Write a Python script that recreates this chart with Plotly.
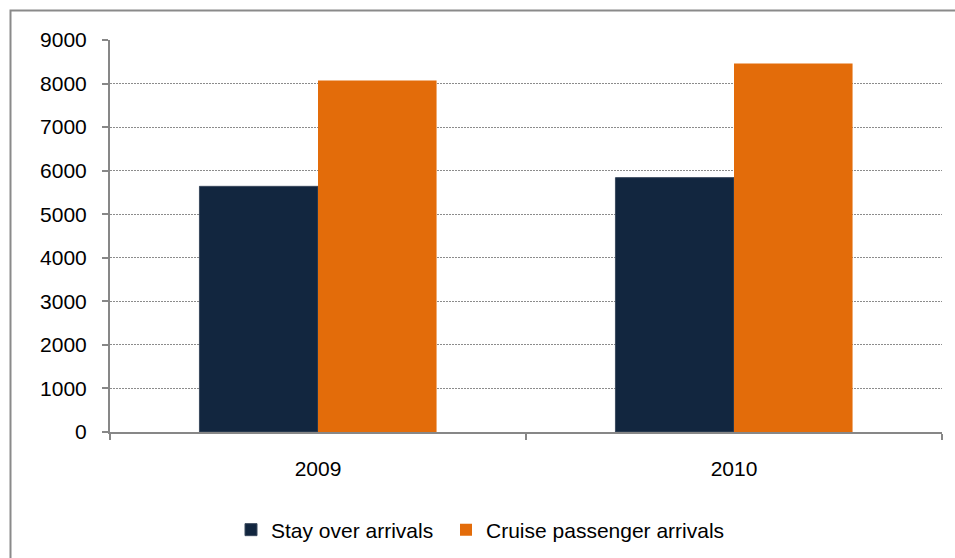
import plotly.graph_objects as go

categories = ["2009", "2010"]
stay_over = [5640, 5840]
cruise = [8070, 8460]
y_ticks = [0, 1000, 2000, 3000, 4000, 5000, 6000, 7000, 8000, 9000]

W, H = 955, 558
L, R, T, B = 110, 13, 40, 126
pw, ph = W - L - R, H - T - B

def px_x(x):
    return (x - L) / pw

def px_y(y):
    return (H - B - y) / ph

fig = go.Figure()
fig.add_trace(go.Bar(name="Stay over arrivals", x=categories, y=stay_over, legend="legend",
                     marker=dict(color="#12263f", line=dict(color="#3b4a5e", width=1))))
fig.add_trace(go.Bar(name="Cruise passenger arrivals", x=categories, y=cruise, legend="legend2",
                     marker=dict(color="#e36c0a", line=dict(width=0))))

axis_gray = "#878787"
leg_common = dict(orientation="h", xanchor="left", yanchor="middle",
                  xref="container", yref="container", y=1 - 530 / H,
                  font=dict(size=21), itemwidth=30, bgcolor="rgba(0,0,0,0)")
fig.update_layout(
    width=W, height=H,
    margin=dict(l=L, r=R, t=T, b=B, pad=0, autoexpand=False),
    paper_bgcolor="white", plot_bgcolor="white",
    barmode="group", bargap=0.43, bargroupgap=0,
    font=dict(family="Liberation Sans, Arial, sans-serif", size=20, color="#000000"),
    showlegend=True,
    legend=dict(x=231 / W, **leg_common),
    legend2=dict(x=446 / W, **leg_common),
    xaxis=dict(showline=True, linecolor=axis_gray, linewidth=2, ticks="outside",
               tickson="boundaries", ticklen=6, tickcolor=axis_gray, tickwidth=2,
               showgrid=False, ticklabelstandoff=17, tickfont=dict(size=21), automargin=False),
    yaxis=dict(range=[0, 9000], tickvals=y_ticks, showline=True, linecolor=axis_gray, linewidth=2,
               ticks="outside", ticklen=6, tickcolor=axis_gray, tickwidth=2,
               showgrid=True, gridcolor="#8c8c8c", griddash="2px,1px", gridwidth=1,
               zeroline=False, ticklabelstandoff=11, tickfont=dict(size=21), automargin=False),
    shapes=[dict(type="rect", xref="paper", yref="paper",
                 x0=px_x(10.5), x1=px_x(1200), y0=px_y(800), y1=px_y(10.5),
                 line=dict(color="#8a8a8a", width=2), fillcolor="rgba(0,0,0,0)", layer="below")],
)

fig.write_html("out.html")
